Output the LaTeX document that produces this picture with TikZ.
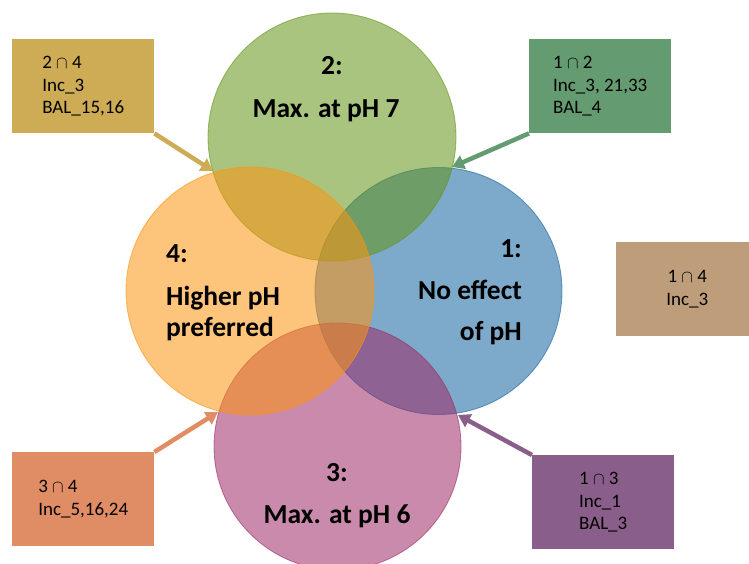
\documentclass[tikz,border=0pt]{standalone}
\usepackage{fontspec}
\setmainfont{Carlito}
\usetikzlibrary{arrows.meta}
\definecolor{cblue}{RGB}{20,99,159}
\definecolor{cgreen}{RGB}{99,148,22}
\definecolor{cpink}{RGB}{157,42,102}
\definecolor{corange}{RGB}{253,148,17}
\definecolor{boxgold}{RGB}{206,172,85}
\definecolor{boxgreen}{RGB}{100,155,112}
\definecolor{boxtan}{RGB}{190,158,122}
\definecolor{boxorange}{RGB}{224,140,100}
\definecolor{boxpurple}{RGB}{138,94,138}
\begin{document}
\begin{tikzpicture}[x=1pt,y=-1pt,
    venn/.style={fill opacity=0.55,draw opacity=0.6,line width=0.8pt},
    lbl/.style={font=\fontsize{27.5}{31}\selectfont\bfseries,inner sep=0pt},
    infobox/.style={minimum width=142pt,minimum height=94pt,align=left,
      font=\fontsize{19}{22.5}\selectfont,inner sep=0pt,anchor=north west},
    pointer/.style={line width=4.5pt,-{Triangle[length=12pt,width=14pt]}}]
    \useasboundingbox (0,0) rectangle (749,564);
    \fill[white] (0,0) rectangle (749,564);
    % the four sets
    \draw[venn,fill=cblue,draw=cblue] (438.5,291) circle [radius=123.5];
    \draw[venn,fill=cgreen,draw=cgreen] (332,137) circle [radius=124];
    \draw[venn,fill=cpink,draw=cpink] (337.5,446.5) circle [radius=123.5];
    \draw[venn,fill=corange,draw=corange] (250,291) circle [radius=124];
    % set labels
    \node[lbl,anchor=base] (s2a) at (332,75) {2:};
    \node[lbl,anchor=base] (s2b) at (326,118) {Max. at pH 7};
    \node[lbl,anchor=base west] (s4a) at (166,262) {4:};
    \node[lbl,anchor=base west] (s4b) at (166,305) {Higher pH};
    \node[lbl,anchor=base west] (s4c) at (166,336) {preferred};
    \node[lbl,anchor=base east] (s1a) at (522,257) {1:};
    \node[lbl,anchor=base east] (s1b) at (522,299) {No effect};
    \node[lbl,anchor=base east] (s1c) at (522,340) {of pH};
    \node[lbl,anchor=base] (s3a) at (337,481) {3:};
    \node[lbl,anchor=base] (s3b) at (337,523) {Max. at pH 6};
    % intersection boxes
    \node[infobox,fill=boxgold] (b24) at (12,39) {2 $\cap$ 4\\Inc\_3\\BAL\_15,16};
    \node[infobox,fill=boxgreen] (b12) at (529,39) {1 $\cap$ 2\\Inc\_3, 21,33\\BAL\_4};
    \node[infobox,fill=boxtan,align=center] (b14) at (616,242) {1 $\cap$ 4\\Inc\_3};
    \node[infobox,fill=boxorange] (b34) at (12,452) {3 $\cap$ 4\\Inc\_5,16,24};
    \node[infobox,fill=boxpurple] (b13) at (532,455) {1 $\cap$ 3\\Inc\_1\\BAL\_3};
    % pointers
    \coordinate (p24) at (213,171);
    \coordinate (p12) at (452,167);
    \coordinate (p34) at (218,412);
    \coordinate (p13) at (458,415);
    \draw[pointer,boxgold] (b24.south east) -- (p24);
    \draw[pointer,boxgreen] (b12.south west) -- (p12);
    \draw[pointer,boxorange] (b34.north east) -- (p34);
    \draw[pointer,boxpurple] (b13.north west) -- (p13);
\end{tikzpicture}
\end{document}
